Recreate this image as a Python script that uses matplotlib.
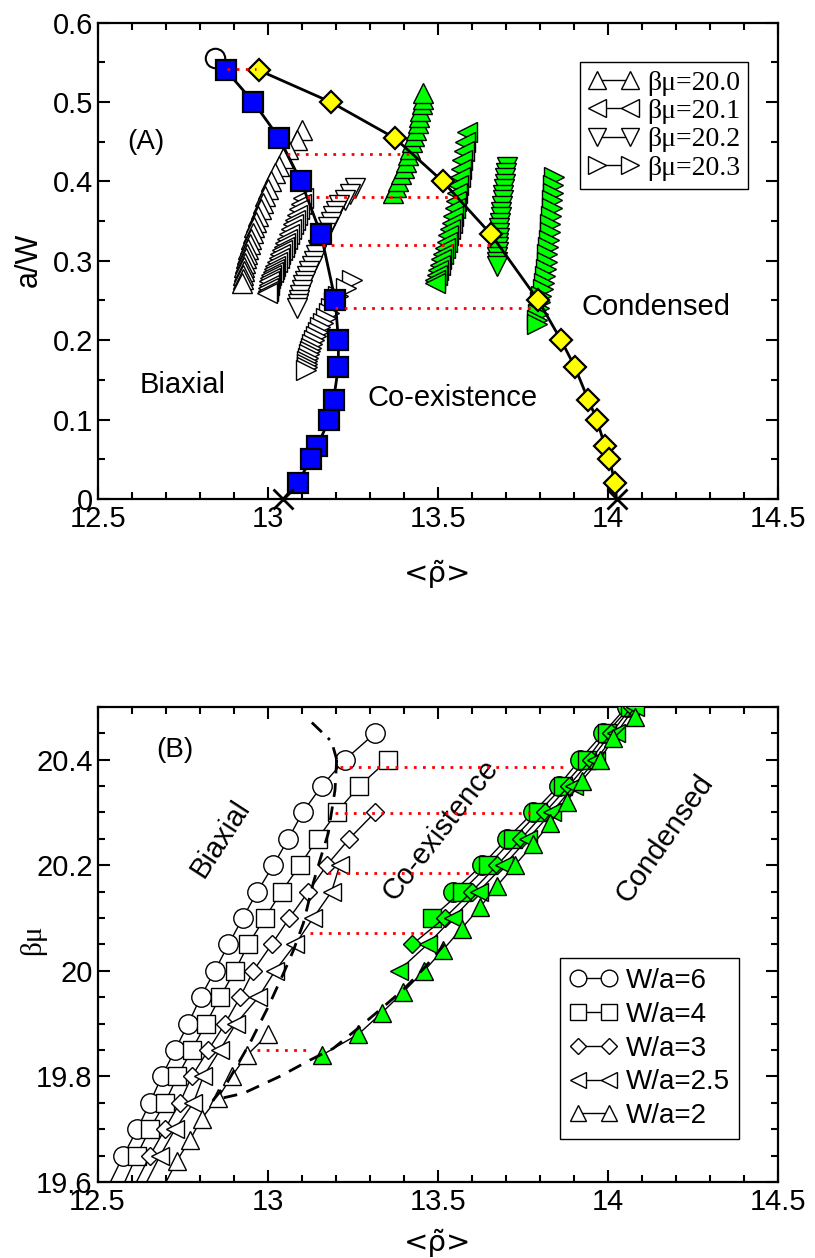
import matplotlib
matplotlib.use('Agg')
import matplotlib.pyplot as plt
from matplotlib.lines import Line2D
from matplotlib.ticker import FixedLocator, MultipleLocator
import numpy as np

# ---------------- DATA: panel A ----------------
xticks_vals = [12.5, 13.0, 13.5, 14.0, 14.5]
xtick_labels = ["12.5", "13", "13.5", "14", "14.5"]
a_yticks = [0, 0.1, 0.2, 0.3, 0.4, 0.5, 0.6]
a_ytick_labels = ["0", "0.1", "0.2", "0.3", "0.4", "0.5", "0.6"]

biax_y = [0.54, 0.5, 0.4545, 0.4, 0.3333, 0.25, 0.2, 0.1667, 0.125, 0.1, 0.0667, 0.05, 0.02]
biax_x = [12.876, 12.957, 13.033, 13.097, 13.156, 13.198, 13.207, 13.207, 13.193, 13.180, 13.145, 13.126, 13.087]
biax_end = (13.045, 0.0)

cond_y = [0.54, 0.5, 0.4545, 0.4, 0.3333, 0.25, 0.2, 0.1667, 0.125, 0.1, 0.0667, 0.05, 0.02]
cond_x = [12.973, 13.184, 13.373, 13.514, 13.656, 13.795, 13.862, 13.902, 13.942, 13.967, 13.991, 14.004, 14.021]
cond_end = (14.025, 0.0)

top_circle = (12.845, 0.555)

# coexistence tie lines (a/W, x_left, x_right)
tie_a_y = [0.541, 0.4345, 0.380, 0.320, 0.241]
tie_a_x0 = [12.880, 13.057, 13.114, 13.158, 13.197]
tie_a_x1 = [12.965, 13.420, 13.560, 13.663, 13.780]

# biaxial branch, open markers
b200_y = [0.465, 0.452, 0.441, 0.430, 0.420, 0.410, 0.400, 0.391, 0.382, 0.373, 0.365, 0.357, 0.349,
          0.342, 0.335, 0.328, 0.321, 0.315, 0.309, 0.303, 0.297, 0.292, 0.287, 0.282, 0.277, 0.272]
b200_x = [13.099, 13.084, 13.058, 13.045, 13.033, 13.022, 13.010, 13.000, 12.992, 12.985, 12.978, 12.971, 12.965,
          12.960, 12.955, 12.950, 12.946, 12.942, 12.938, 12.935, 12.932, 12.930, 12.928, 12.926, 12.925, 12.923]
b201_y = [0.379, 0.372, 0.365, 0.358, 0.352, 0.346, 0.340, 0.334, 0.328, 0.323, 0.318, 0.313, 0.308,
          0.303, 0.298, 0.294, 0.290, 0.286, 0.282, 0.278, 0.274, 0.270, 0.266, 0.262, 0.259]
b201_x = [13.104, 13.098, 13.092, 13.086, 13.080, 13.074, 13.068, 13.062, 13.056, 13.051, 13.046, 13.041, 13.036,
          13.031, 13.026, 13.022, 13.018, 13.014, 13.010, 13.007, 13.004, 13.002, 13.000, 12.999, 12.998]
b202_y = [0.392, 0.384, 0.377, 0.370, 0.363, 0.356, 0.349, 0.342, 0.335, 0.328, 0.321, 0.314,
          0.307, 0.300, 0.293, 0.287, 0.281, 0.275, 0.269, 0.263, 0.257, 0.251, 0.245, 0.240]
b202_x = [13.256, 13.241, 13.226, 13.209, 13.200, 13.192, 13.184, 13.176, 13.168, 13.160, 13.153, 13.146,
          13.140, 13.134, 13.128, 13.121, 13.115, 13.109, 13.104, 13.099, 13.094, 13.090, 13.087, 13.084]
b203_y = [0.276, 0.266, 0.256, 0.248, 0.241, 0.234, 0.228, 0.222, 0.216, 0.210, 0.205,
          0.200, 0.195, 0.190, 0.186, 0.182, 0.178, 0.174, 0.170, 0.166, 0.162]
b203_x = [13.246, 13.230, 13.205, 13.195, 13.186, 13.178, 13.170, 13.162, 13.153, 13.146, 13.140,
          13.135, 13.130, 13.126, 13.123, 13.120, 13.118, 13.116, 13.115, 13.114, 13.113]

# condensed branch, green markers
c200_y = [0.385, 0.393, 0.401, 0.409, 0.417, 0.425, 0.433, 0.441, 0.449, 0.457, 0.465, 0.473, 0.481,
          0.489, 0.497, 0.504, 0.511]
c200_x = [13.369, 13.375, 13.383, 13.392, 13.400, 13.407, 13.413, 13.419, 13.424, 13.430, 13.435, 13.440,
          13.444, 13.448, 13.452, 13.455, 13.457]
c201_y = [0.462, 0.450, 0.438, 0.427, 0.416, 0.405, 0.395, 0.385, 0.375, 0.366, 0.357, 0.348, 0.340,
          0.332, 0.324, 0.316, 0.309, 0.302, 0.295, 0.288, 0.282, 0.276, 0.272]
c201_x = [13.584, 13.580, 13.576, 13.572, 13.568, 13.564, 13.560, 13.557, 13.554, 13.549, 13.545, 13.540,
          13.535, 13.530, 13.526, 13.520, 13.515, 13.510, 13.505, 13.500, 13.496, 13.492, 13.490]
c202_y = [0.418, 0.411, 0.404, 0.397, 0.390, 0.383, 0.376, 0.369, 0.362, 0.355, 0.348, 0.341,
          0.335, 0.329, 0.323, 0.317, 0.311, 0.305, 0.299, 0.293]
c202_x = [13.702, 13.700, 13.698, 13.696, 13.694, 13.692, 13.690, 13.688, 13.686, 13.684, 13.682, 13.680,
          13.679, 13.678, 13.677, 13.676, 13.675, 13.674, 13.673, 13.673]
c203_y = [0.406, 0.396, 0.386, 0.376, 0.366, 0.356, 0.346, 0.336, 0.326, 0.317, 0.308,
          0.299, 0.290, 0.281, 0.272, 0.264, 0.256, 0.248, 0.240, 0.233, 0.226, 0.220]
c203_x = [13.840, 13.839, 13.837, 13.836, 13.834, 13.832, 13.830, 13.828, 13.826, 13.824, 13.822,
          13.820, 13.817, 13.814, 13.811, 13.808, 13.804, 13.800, 13.797, 13.794, 13.792, 13.790]

a_legend_labels = ["βμ=20.0", "βμ=20.1", "βμ=20.2", "βμ=20.3"]

# ---------------- DATA: panel B ----------------
b_yticks = [19.6, 19.8, 20.0, 20.2, 20.4]
b_ytick_labels = ["19.6", "19.8", "20", "20.2", "20.4"]

w6_mu = [19.55, 19.65, 19.70, 19.75, 19.80, 19.85, 19.90, 19.95, 20.00, 20.05, 20.10, 20.15, 20.20, 20.25, 20.30, 20.35, 20.40, 20.45]
w6_x = [12.500, 12.576, 12.617, 12.654, 12.689, 12.728, 12.767, 12.803, 12.845, 12.885, 12.927, 12.970, 13.017, 13.061, 13.103, 13.159, 13.228, 13.316]
w4_mu = [19.55, 19.65, 19.70, 19.75, 19.80, 19.85, 19.90, 19.95, 20.00, 20.05, 20.10, 20.15, 20.20, 20.25, 20.30, 20.35, 20.40]
w4_x = [12.545, 12.615, 12.654, 12.698, 12.735, 12.777, 12.819, 12.860, 12.904, 12.943, 12.992, 13.041, 13.095, 13.147, 13.203, 13.270, 13.355]
w3_mu = [19.55, 19.65, 19.70, 19.75, 19.80, 19.85, 19.90, 19.95, 20.00, 20.05, 20.10, 20.15, 20.20, 20.25, 20.30]
w3_x = [12.575, 12.654, 12.698, 12.742, 12.777, 12.826, 12.875, 12.919, 12.958, 13.012, 13.064, 13.120, 13.174, 13.240, 13.316]
w25_mu = [19.55, 19.65, 19.70, 19.75, 19.80, 19.85, 19.90, 19.95, 20.00, 20.05, 20.10, 20.15, 20.20]
w25_x = [12.605, 12.684, 12.728, 12.782, 12.811, 12.860, 12.907, 12.973, 13.022, 13.081, 13.134, 13.188, 13.212]
w2_mu = [19.56, 19.64, 19.68, 19.72, 19.76, 19.80, 19.84, 19.88]
w2_x = [12.670, 12.733, 12.772, 12.806, 12.855, 12.894, 12.939, 13.002]

g6_mu = [20.15, 20.20, 20.25, 20.30, 20.35, 20.40, 20.45, 20.50]
g6_x = [13.546, 13.630, 13.703, 13.781, 13.855, 13.918, 13.987, 14.055]
g4_mu = [20.10, 20.15, 20.20, 20.25, 20.30, 20.35, 20.40, 20.45, 20.50]
g4_x = [13.482, 13.570, 13.649, 13.722, 13.796, 13.869, 13.938, 13.996, 14.065]
g3_mu = [20.05, 20.10, 20.15, 20.20, 20.25, 20.30, 20.35, 20.40, 20.45, 20.50]
g3_x = [13.425, 13.520, 13.600, 13.675, 13.745, 13.815, 13.885, 13.950, 14.010, 14.070]
g25_mu = [20.00, 20.05, 20.10, 20.15, 20.20, 20.25, 20.30, 20.35, 20.40, 20.45, 20.50]
g25_x = [13.385, 13.470, 13.545, 13.620, 13.695, 13.765, 13.835, 13.900, 13.965, 14.025, 14.080]
g2_mu = [19.84, 19.88, 19.92, 19.96, 20.00, 20.04, 20.08, 20.12, 20.16, 20.20, 20.24, 20.28, 20.32, 20.36, 20.40, 20.44, 20.48]
g2_x = [13.159, 13.267, 13.335, 13.399, 13.460, 13.516, 13.570, 13.624, 13.673, 13.727, 13.781, 13.830, 13.879, 13.923, 13.977, 14.016, 14.080]

tie_b_y = [20.385, 20.298, 20.185, 20.072, 19.850]
tie_b_x0 = [13.213, 13.198, 13.178, 13.125, 12.968]
tie_b_x1 = [13.879, 13.771, 13.610, 13.500, 13.125]

dashdot_x = [13.130, 13.188, 13.203]
dashdot_y = [20.470, 20.434, 20.400]
dash_x = [13.203, 13.198, 13.178, 13.154, 13.134, 13.105, 13.076, 13.050, 13.002, 12.948, 12.880, 12.840,
          12.929, 13.036, 13.125, 13.193, 13.260, 13.330, 13.400, 13.460, 13.520]
dash_y = [20.400, 20.342, 20.260, 20.210, 20.166, 20.090, 20.039, 20.000, 19.932, 19.863, 19.787, 19.755,
          19.768, 19.800, 19.831, 19.853, 19.888, 19.926, 19.965, 20.005, 20.050]

b_legend_labels = ["W/a=6", "W/a=4", "W/a=3", "W/a=2.5", "W/a=2"]

# ---------------- STYLE ----------------
SANS = ['Liberation Sans', 'DejaVu Sans']
SERIF = ['Liberation Serif', 'DejaVu Serif']
plt.rcParams['font.family'] = SANS
plt.rcParams['mathtext.fontset'] = 'custom'
plt.rcParams['mathtext.rm'] = 'Liberation Serif'
plt.rcParams['mathtext.it'] = 'Liberation Serif'
FS = 20
TFS = 21
GREEN = '#00ff00'
RED = '#ff0000'

fig = plt.figure(figsize=(8.15, 12.58), dpi=100)
W_PX, H_PX = 815.0, 1258.0
axA = fig.add_axes([98 / W_PX, 1 - 499 / H_PX, 680 / W_PX, 476.4 / H_PX])
axB = fig.add_axes([97.5 / W_PX, 1 - 1182 / H_PX, 680.5 / W_PX, 475.3 / H_PX])


def style_axes(ax, yticks, ylabels, ymajor_minor):
    ax.set_xlim(12.5, 14.5)
    ax.xaxis.set_major_locator(FixedLocator(xticks_vals))
    ax.set_xticklabels(xtick_labels)
    ax.xaxis.set_minor_locator(MultipleLocator(0.1))
    ax.yaxis.set_major_locator(FixedLocator(yticks))
    ax.set_yticklabels(ylabels)
    ax.yaxis.set_minor_locator(MultipleLocator(ymajor_minor))
    ax.tick_params(which='both', direction='in', top=True, right=True, labelsize=TFS, width=1.5)
    ax.tick_params(which='major', length=8.5)
    ax.tick_params(which='minor', length=5)
    ax.tick_params(axis='x', pad=4.5)
    ax.tick_params(axis='y', pad=3.5)
    for s in ax.spines.values():
        s.set_linewidth(1.6)


def tie(ax, y, x0, x1):
    ax.plot([x0, x1], [y, y], color=RED, lw=2.0, dashes=(1.0, 2.3), zorder=20)


XLABEL = "<ρ̃>"

# ---------------- PANEL A ----------------
axA.set_ylim(0, 0.6)
style_axes(axA, a_yticks, a_ytick_labels, 0.05)

open_kw = dict(mfc='white', mec='black', mew=1.0, color='black', lw=1.0)
axA.plot(b200_x, b200_y, marker='^', ms=14, zorder=3, **open_kw)
axA.plot(b201_x, b201_y, marker='<', ms=14, zorder=3, **open_kw)
axA.plot(b202_x, b202_y, marker='v', ms=14, zorder=3, **open_kw)
axA.plot(b203_x, b203_y, marker='>', ms=14, zorder=3, **open_kw)

green_kw = dict(mfc=GREEN, mec='black', mew=1.0, color='black', lw=1.0)
axA.plot(c200_x, c200_y, marker='^', ms=14, zorder=4, **green_kw)
axA.plot(c201_x, c201_y, marker='<', ms=14, zorder=4, **green_kw)
axA.plot(c202_x, c202_y, marker='v', ms=14, zorder=4, **green_kw)
axA.plot(c203_x, c203_y, marker='>', ms=14, zorder=4, **green_kw)

axA.plot([top_circle[0]], [top_circle[1]], marker='o', ms=14, mfc='white', mec='black', mew=1.5, zorder=5)
axA.plot(biax_x + [biax_end[0]], biax_y + [biax_end[1]], color='black', lw=2.0, zorder=6, clip_on=False)
axA.plot(biax_x, biax_y, ls='none', marker='s', ms=14, mfc='#0000ff', mec='black', mew=1.6, zorder=7)
axA.plot(cond_x + [cond_end[0]], cond_y + [cond_end[1]], color='black', lw=2.0, zorder=6, clip_on=False)
axA.plot(cond_x, cond_y, ls='none', marker='D', ms=11.5, mfc='#ffff00', mec='black', mew=1.6, zorder=8)
axA.plot([biax_end[0], cond_end[0]], [biax_end[1], cond_end[1]], ls='none', marker='x', ms=14,
         mec='black', mew=2.0, zorder=9, clip_on=False)

for y, x0, x1 in zip(tie_a_y, tie_a_x0, tie_a_x1):
    tie(axA, y, x0, x1)

axA.text(12.641, 0.45, "(A)", fontsize=FS, ha='center', va='center')
axA.text(12.75, 0.1436, "Biaxial", fontsize=FS + 1, ha='center', va='center')
axA.text(13.544, 0.127, "Co-existence", fontsize=FS + 1, ha='center', va='center')
axA.text(14.14, 0.242, "Condensed", fontsize=FS + 1, ha='center', va='center')

legA_handles = [Line2D([], [], marker=m, ms=12.5, mfc='white', mec='black', mew=1.0, color='black', lw=1.0)
                for m in ['^', '<', 'v', '>']]
legA = axA.legend(legA_handles, a_legend_labels, loc='upper left', bbox_to_anchor=(0.709, 0.917),
                  borderaxespad=0, numpoints=2, handlelength=1.8, handletextpad=0.3,
                  labelspacing=0.1, borderpad=0.3, fancybox=False, framealpha=1,
                  edgecolor='black', prop={'family': SERIF, 'size': FS})
legA.get_frame().set_linewidth(1.0)
legA.set_zorder(30)

fig.text(29 / W_PX, 1 - 260 / H_PX, "a/W", rotation=90, ha='center', va='center', fontsize=FS + 2)
fig.text(438 / W_PX, 1 - 574 / H_PX, XLABEL, ha='center', va='center', fontsize=FS + 1,
         family=['DejaVu Sans'])

# ---------------- PANEL B ----------------
axB.set_ylim(19.6, 20.5)
style_axes(axB, b_yticks, b_ytick_labels, 0.05)

axB.plot(w6_x, w6_mu, marker='o', ms=14, zorder=3, **open_kw)
axB.plot(w4_x, w4_mu, marker='s', ms=12.5, zorder=3, **open_kw)
axB.plot(w3_x, w3_mu, marker='D', ms=9.5, zorder=3, **open_kw)
axB.plot(w25_x, w25_mu, marker='<', ms=13, zorder=3, **open_kw)
axB.plot(w2_x, w2_mu, marker='^', ms=13, zorder=3, **open_kw)

axB.plot(g6_x, g6_mu, marker='o', ms=14, zorder=4, **green_kw)
axB.plot(g4_x, g4_mu, marker='s', ms=12.5, zorder=4, **green_kw)
axB.plot(g3_x, g3_mu, marker='D', ms=9.5, zorder=4, **green_kw)
axB.plot(g25_x, g25_mu, marker='<', ms=13, zorder=4, **green_kw)
axB.plot(g2_x, g2_mu, marker='^', ms=13, zorder=4, **green_kw)

axB.plot(dashdot_x, dashdot_y, color='black', lw=2.0, dashes=(5, 3, 1, 3), zorder=10)
axB.plot(dash_x, dash_y, color='black', lw=2.0, dashes=(5, 3.5), zorder=10)

for y, x0, x1 in zip(tie_b_y, tie_b_x0, tie_b_x1):
    tie(axB, y, x0, x1)

axB.text(12.726, 20.418, "(B)", fontsize=FS, ha='center', va='center')
axB.text(12.86, 20.25, "Biaxial", fontsize=FS + 1, ha='center', va='center', rotation=57)
axB.text(13.507, 20.267, "Co-existence", fontsize=FS + 1, ha='center', va='center', rotation=52)
axB.text(14.168, 20.25, "Condensed", fontsize=FS + 1, ha='center', va='center', rotation=55)

legB_handles = [Line2D([], [], marker=m, ms=s, mfc='white', mec='black', mew=1.0, color='black', lw=1.0)
                for m, s in [('o', 12), ('s', 11), ('D', 8.5), ('<', 12), ('^', 12)]]
legB = axB.legend(legB_handles, b_legend_labels, loc='upper left', bbox_to_anchor=(0.680, 0.4707),
                  borderaxespad=0, numpoints=2, handlelength=1.7, handletextpad=0.3,
                  labelspacing=0.28, borderpad=0.35, fancybox=False, framealpha=1,
                  edgecolor='black', prop={'family': SANS, 'size': FS})
legB.get_frame().set_linewidth(1.0)
legB.set_zorder(30)

fig.text(33 / W_PX, 1 - 940 / H_PX, "βμ", rotation=90, ha='center', va='center', fontsize=FS + 1,
         family=SERIF)
fig.text(438 / W_PX, 1 - 1243 / H_PX, XLABEL, ha='center', va='center', fontsize=FS + 1,
         family=['DejaVu Sans'])

fig.savefig('out.png', dpi=100)
